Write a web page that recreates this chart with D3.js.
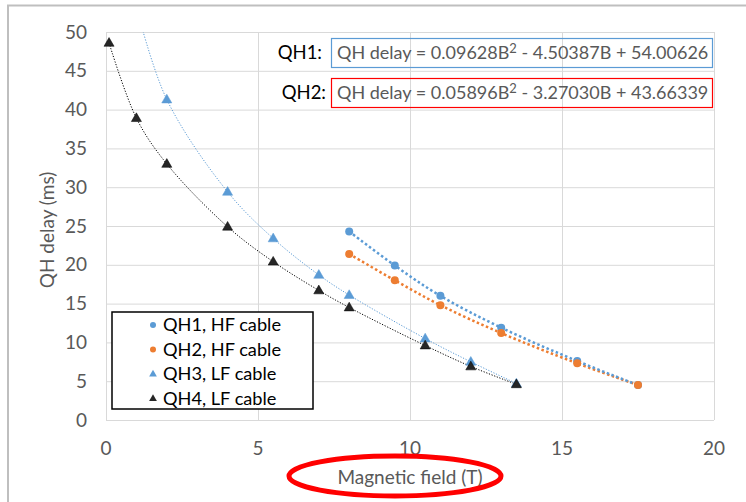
<!DOCTYPE html>
<html>
<head>
<meta charset="utf-8">
<script src="https://cdn.jsdelivr.net/npm/d3@7"></script>
<style>
  body { margin: 0; background: #fff; }
  svg { display: block; font-family: Lato, "Open Sans", sans-serif; }
</style>
</head>
<body>
<div id="chart"></div>
<script>
// Data
var qh1Field = [8, 9.5, 11, 13, 15.5, 17.5],
	qh1Delay = [24.3, 19.9, 16.0, 11.9, 7.6, 4.5],
	qh2Field = [8, 9.5, 11, 13, 15.5, 17.5],
	qh2Delay = [21.4, 18.0, 14.8, 11.2, 7.3, 4.5],
	qh3Field = [1, 2, 4, 5.5, 7, 8, 10.5, 12, 13.5],
	qh3Delay = [53.2, 41.3, 29.4, 23.4, 18.7, 16.1, 10.5, 7.5, 4.7],
	qh4Field = [0.1, 1, 2, 4, 5.5, 7, 8, 10.5, 12, 13.5],
	qh4Delay = [48.6, 38.9, 33.0, 24.9, 20.4, 16.7, 14.5, 9.6, 6.9, 4.6];

var legendLabels = ["QH1, HF cable", "QH2, HF cable", "QH3, LF cable", "QH4, LF cable"];
var xTicks = [0, 5, 10, 15, 20],
	yTicks = [0, 5, 10, 15, 20, 25, 30, 35, 40, 45, 50];
var fitLabels = ["QH1:", "QH2:"],
	fitText = [
		["QH delay = 0.09628B", " - 4.50387B + 54.00626"],
		["QH delay = 0.05896B", " - 3.27030B + 43.66339"]
	];

var width = 746, height = 502;
var blue = "#5b9bd5", orange = "#ed7d31", black = "#000";

var x = d3.scaleLinear().domain([0, 20]).range([106, 714]);
var y = d3.scaleLinear().domain([0, 50]).range([420, 32]);

var svg = d3.select("#chart").append("svg")
	.attr("width", width)
	.attr("height", height);

// chart border
svg.append("path")
	.attr("d", "M8," + height + "V5.5H" + width)
	.attr("fill", "none")
	.attr("stroke", "#bfbfbf")
	.attr("stroke-width", 2);

svg.append("clipPath").attr("id", "plotclip")
	.append("rect")
	.attr("x", x(0)).attr("y", y(50))
	.attr("width", x(20) - x(0)).attr("height", y(0) - y(50));

// grid
svg.append("g").selectAll("line")
	.data(yTicks).enter().append("line")
	.attr("x1", x(0)).attr("x2", x(20))
	.attr("y1", function(d) { return y(d) + 0.5; })
	.attr("y2", function(d) { return y(d) + 0.5; })
	.attr("stroke", "#d9d9d9");
svg.append("g").selectAll("line")
	.data(xTicks).enter().append("line")
	.attr("y1", y(0)).attr("y2", y(50))
	.attr("x1", function(d) { return x(d) + 0.5; })
	.attr("x2", function(d) { return x(d) + 0.5; })
	.attr("stroke", "#d9d9d9");

// tick labels
svg.append("g").selectAll("text")
	.data(yTicks).enter().append("text")
	.attr("x", 87)
	.attr("y", function(d) { return y(d); })
	.attr("dy", "0.35em")
	.attr("text-anchor", "end")
	.attr("font-size", 19)
	.attr("fill", "#595959")
	.text(function(d) { return d; });
svg.append("g").selectAll("text")
	.data(xTicks).enter().append("text")
	.attr("x", function(d) { return x(d); })
	.attr("y", 448)
	.attr("dy", "0.35em")
	.attr("text-anchor", "middle")
	.attr("font-size", 19)
	.attr("fill", "#595959")
	.text(function(d) { return d; });

// axis titles
svg.append("text")
	.attr("transform", "translate(47,230) rotate(-90)")
	.attr("text-anchor", "middle")
	.attr("dy", "0.35em")
	.attr("font-size", 19)
	.attr("fill", "#595959")
	.text("QH delay (ms)");
svg.append("text")
	.attr("x", 410)
	.attr("y", 477)
	.attr("dy", "0.35em")
	.attr("text-anchor", "middle")
	.attr("font-size", 19)
	.attr("fill", "#595959")
	.text("Magnetic field (T)");

// red ellipse round the x title
svg.append("ellipse")
	.attr("cx", 395).attr("cy", 476)
	.attr("rx", 106).attr("ry", 20)
	.attr("fill", "none")
	.attr("stroke", "#ff0000")
	.attr("stroke-width", 5);

function pts(xs, ys) {
	return xs.map(function(d, i) { return [d, ys[i]]; });
}

var line = d3.line()
	.x(function(d) { return x(d[0]); })
	.y(function(d) { return y(d[1]); })
	.curve(d3.curveCatmullRom);

var series = [
	{ data: pts(qh4Field, qh4Delay), color: black, w: 1, dash: "1.2,1.6", mark: "tri", fill: "#262626" },
	{ data: pts(qh3Field, qh3Delay), color: blue, w: 1, dash: "1.2,1.6", mark: "tri", fill: blue },
	{ data: pts(qh2Field, qh2Delay), color: orange, w: 2.5, dash: "2.5,2.5", mark: "dot", fill: orange },
	{ data: pts(qh1Field, qh1Delay), color: blue, w: 2.5, dash: "2.5,2.5", mark: "dot", fill: blue }
];

var lines = svg.append("g").attr("clip-path", "url(#plotclip)");
series.forEach(function(s) {
	lines.append("path")
		.datum(s.data)
		.attr("d", line)
		.attr("fill", "none")
		.attr("stroke", s.color)
		.attr("stroke-width", s.w)
		.attr("stroke-dasharray", s.dash);
});

var triangle = d3.symbol().type(d3.symbolTriangle).size(44);
var triSmall = d3.symbol().type(d3.symbolTriangle).size(26);

// markers (the ones off the top of the axis are not shown)
series.slice().reverse().forEach(function(s) {
	var g = svg.append("g");
	var inRange = s.data.filter(function(d) { return d[1] <= 50; });
	if (s.mark == "dot") {
		g.selectAll("circle").data(inRange).enter().append("circle")
			.attr("cx", function(d) { return x(d[0]); })
			.attr("cy", function(d) { return y(d[1]); })
			.attr("r", 4)
			.attr("fill", s.fill);
	} else {
		g.selectAll("path").data(inRange).enter().append("path")
			.attr("d", triangle)
			.attr("transform", function(d) { return "translate(" + x(d[0]) + "," + (y(d[1]) + 0.5) + ")"; })
			.attr("fill", s.fill)
			.attr("stroke", s.fill == blue ? blue : "#000")
			.attr("stroke-width", 0.5);
	}
});

// fit equations
var boxColors = [blue, "#ff0000"];
fitText.forEach(function(t, i) {
	var top = i == 0 ? 38 : 78;
	svg.append("rect")
		.attr("x", 331.5).attr("y", top + 0.5)
		.attr("width", 381).attr("height", 29)
		.attr("fill", "none")
		.attr("stroke", boxColors[i])
		.attr("stroke-width", 1.2);
	svg.append("text")
		.attr("x", 322 + i * 4)
		.attr("y", top + 15)
		.attr("dy", "0.35em")
		.attr("text-anchor", "end")
		.attr("font-size", 18.5)
		.attr("fill", "#000")
		.text(fitLabels[i]);
	var txt = svg.append("text")
		.attr("x", 337)
		.attr("y", top + 15)
		.attr("dy", "0.35em")
		.attr("font-size", 18)
		.attr("fill", "#595959");
	txt.append("tspan").text(t[0]);
	txt.append("tspan").attr("dy", -6).attr("font-size", 13).text("2");
	txt.append("tspan").attr("dy", 6).text(t[1]);
});

// legend
var legend = svg.append("g").attr("transform", "translate(112,312)");
legend.append("rect")
	.attr("width", 201).attr("height", 97)
	.attr("fill", "#fff")
	.attr("stroke", "#000")
	.attr("stroke-width", 1.5);
var legendMarks = [
	{ mark: "dot", fill: blue },
	{ mark: "dot", fill: orange },
	{ mark: "tri", fill: blue },
	{ mark: "tri", fill: "#262626" }
];
var rows = legend.selectAll("g.row")
	.data(legendLabels).enter().append("g")
	.attr("class", "row")
	.attr("transform", function(d, i) { return "translate(0," + (13 + i * 24.4) + ")"; });
rows.each(function(d, i) {
	var r = d3.select(this);
	if (legendMarks[i].mark == "dot") {
		r.append("circle").attr("cx", 41).attr("cy", 0).attr("r", 3).attr("fill", legendMarks[i].fill);
	} else {
		r.append("path").attr("d", triSmall).attr("transform", "translate(41,0.5)").attr("fill", legendMarks[i].fill);
	}
});
rows.append("text")
	.attr("x", 51)
	.attr("dy", "0.35em")
	.attr("font-size", 18.2)
	.attr("fill", "#000")
	.text(function(d) { return d; });
</script>
</body>
</html>
